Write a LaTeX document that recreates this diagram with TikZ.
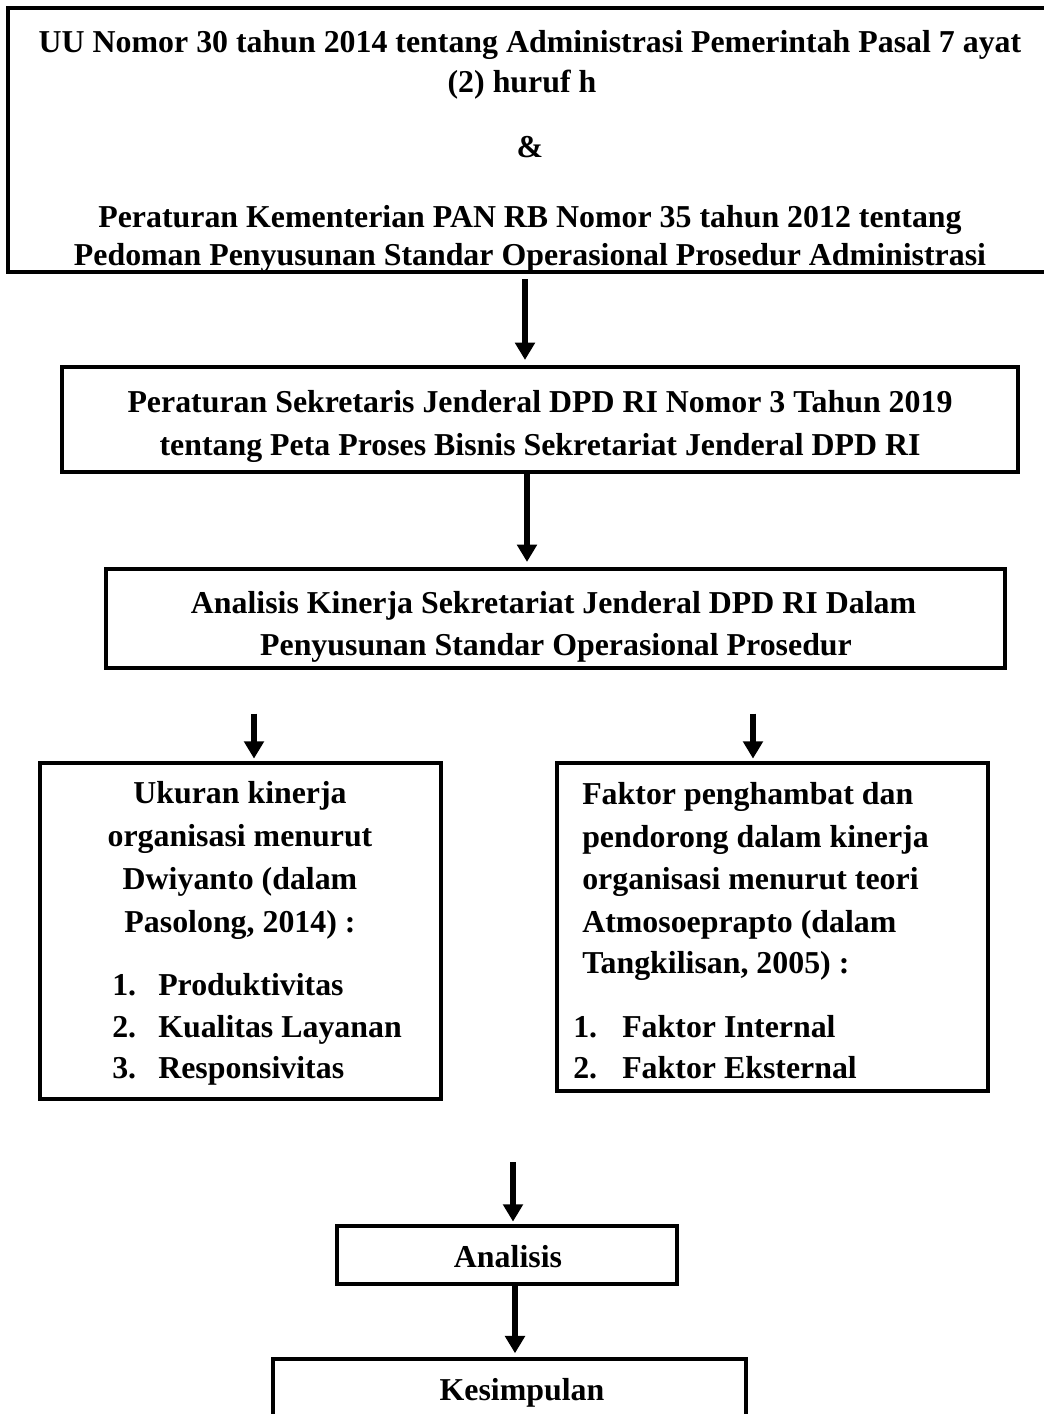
\documentclass[tikz,border=0pt]{standalone}
\usepackage{fontspec}
\setmainfont{Liberation Serif}
\usetikzlibrary{arrows.meta}
\begin{document}
\begin{tikzpicture}[x=0.75pt,y=-0.75pt,
  box/.style={draw=black,line width=2.6pt,inner sep=0pt,rectangle},
  txt/.style={inner sep=0pt,font=\fontsize{23.9}{28}\selectfont\bfseries},
  arr/.style={line width=4.5pt,-{Triangle[width=14.5pt,length=13pt]}}]
\useasboundingbox (0,0) rectangle (1044,1414);
\fill[white] (0,0) rectangle (1044,1414);
\begin{scope}
\clip (0,0) rectangle (1044,1414);
% ---- top box text
\node[txt,anchor=base] (t1) at (530,52) {UU Nomor 30 tahun 2014 tentang Administrasi Pemerintah Pasal 7 ayat};
\node[txt,anchor=base] (t2) at (522,92) {(2) huruf h};
\node[txt,anchor=base] (t3) at (530,157) {\&};
\node[txt,anchor=base] (t4) at (530,227) {Peraturan Kementerian PAN RB Nomor 35 tahun 2012 tentang};
\node[txt,anchor=base] (t5) at (530,265) {Pedoman Penyusunan Standar Operasional Prosedur Administrasi};
\node[box,minimum width=796.5pt,minimum height=198pt] (top) at (539,140) {};
% ---- second box
\node[box,minimum width=717pt,minimum height=78.75pt] (b2) at (540,419.5) {};
\node[txt,anchor=base] (b2a) at (540,412) {Peraturan Sekretaris Jenderal DPD RI Nomor 3 Tahun 2019};
\node[txt,anchor=base] (b2b) at (540,455) {tentang Peta Proses Bisnis Sekretariat Jenderal DPD RI};
% ---- third box
\node[box,minimum width=674.25pt,minimum height=74.25pt] (b3) at (555.5,618.5) {};
\node[txt,anchor=base] (b3a) at (553.5,613) {Analisis Kinerja Sekretariat Jenderal DPD RI Dalam};
\node[txt,anchor=base] (b3b) at (556,655) {Penyusunan Standar Operasional Prosedur};
% ---- left box
\node[box,minimum width=300.75pt,minimum height=252pt] (L) at (240.5,931) {};
\node[txt,anchor=base] (L1) at (240,803) {Ukuran kinerja};
\node[txt,anchor=base] (L2) at (240,846) {organisasi menurut};
\node[txt,anchor=base] (L3) at (240,889) {Dwiyanto (dalam};
\node[txt,anchor=base] (L4) at (240,932) {Pasolong, 2014) :};
\node[txt,anchor=base west] (Ln1) at (112,995) {1.};
\node[txt,anchor=base west] (Li1) at (158,995) {Produktivitas};
\node[txt,anchor=base west] (Ln2) at (112,1037) {2.};
\node[txt,anchor=base west] (Li2) at (158,1037) {Kualitas Layanan};
\node[txt,anchor=base west] (Ln3) at (112,1078) {3.};
\node[txt,anchor=base west] (Li3) at (158,1078) {Responsivitas};
% ---- right box
\node[box,minimum width=323.25pt,minimum height=246pt] (R) at (772.5,927) {};
\node[txt,anchor=base west] (R1) at (582,804) {Faktor penghambat dan};
\node[txt,anchor=base west] (R2) at (582,847) {pendorong dalam kinerja};
\node[txt,anchor=base west] (R3) at (582,889) {organisasi menurut teori};
\node[txt,anchor=base west] (R4) at (582,932) {Atmosoeprapto (dalam};
\node[txt,anchor=base west] (R5) at (582,973) {Tangkilisan, 2005) :};
\node[txt,anchor=base west] (Rn1) at (573,1037) {1.};
\node[txt,anchor=base west] (Ri1) at (622,1037) {Faktor Internal};
\node[txt,anchor=base west] (Rn2) at (573,1078) {2.};
\node[txt,anchor=base west] (Ri2) at (622,1078) {Faktor Eksternal};
% ---- Analisis and Kesimpulan
\node[box,minimum width=255pt,minimum height=43.5pt] (A) at (507,1255) {};
\node[txt,anchor=base] (At) at (508,1267) {Analisis};
\node[box,minimum width=354.75pt,minimum height=60.75pt] (K) at (509.5,1399.5) {};
\node[txt,anchor=base] (Kt) at (522,1400) {Kesimpulan};
% ---- connectors
\coordinate (xa) at (525,0);
\coordinate (xb) at (527,0);
\coordinate (xc) at (254,0);
\coordinate (xd) at (753,0);
\coordinate (s5) at (513,1162);
\coordinate (xf) at (515,0);
\draw[arr,shorten <=4pt,shorten >=4pt] (top.south -| xa) -- (b2.north -| xa);
\draw[arr,shorten >=4pt] (b2.south -| xb) -- (b3.north -| xb);
\draw[arr,shorten <=33pt,shorten >=2pt] (b3.south -| xc) -- (L.north -| xc);
\draw[arr,shorten <=33pt,shorten >=2pt] (b3.south -| xd) -- (R.north -| xd);
\draw[arr,shorten >=2pt] (s5) -- (A.north -| s5);
\draw[arr,shorten >=3pt] (A.south -| xf) -- (K.north -| xf);
\end{scope}
\end{tikzpicture}
\end{document}
